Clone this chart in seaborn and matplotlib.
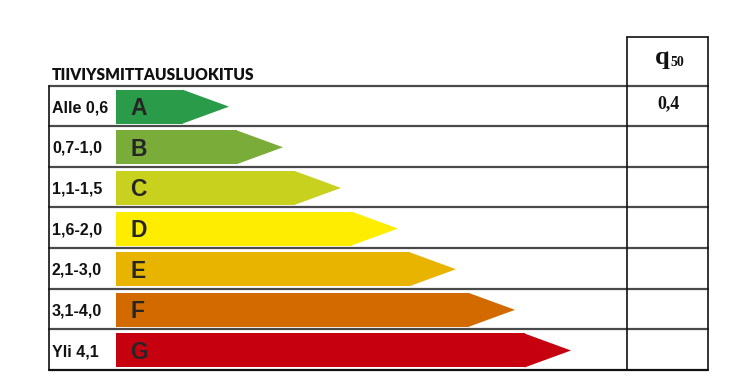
import matplotlib
matplotlib.use("Agg")
import matplotlib.pyplot as plt
import seaborn as sns
import pandas as pd
from matplotlib.patches import Polygon
from matplotlib.lines import Line2D

# ---- data ----
classes = ["A", "B", "C", "D", "E", "F", "G"]
ranges = ["Alle 0,6", "0,7-1,0", "1,1-1,5", "1,6-2,0", "2,1-3,0", "3,1-4,0", "Yli 4,1"]
body_lengths = [67, 121, 179, 236, 294, 353, 409]
colors = ["#2a9b48", "#7aac3a", "#c8d21e", "#ffed00", "#e8b400", "#d26a00", "#c6000e"]
title = "TIIVIYSMITTAUSLUOKITUS"
q_header = "q"
q_sub = "50"
q_values = ["0,4", "", "", "", "", "", ""]

W, H = 755, 387
sns.set_theme(style="white")
fig = plt.figure(figsize=(W / 100, H / 100), dpi=100)
fig.patch.set_facecolor("white")

def fx(x):
    return x / W

def fy(y):
    return 1 - y / H

table_left, table_top, table_bottom = 49, 85.5, 370
col_left, col_right, col_top = 627, 708, 37
row_h = (table_bottom - table_top) / len(classes)
bar_left = 116

# ---- arrows via seaborn barplot ----
ax = fig.add_axes([fx(bar_left), fy(table_bottom), fx(col_left - bar_left),
                   (table_bottom - table_top) / H])
df = pd.DataFrame({"cls": classes, "len": body_lengths})
bar_w = 34 / row_h
sns.barplot(data=df, x="len", y="cls", hue="cls", palette=colors, orient="h",
            width=bar_w, legend=False, ax=ax, linewidth=0, saturation=1)
ax.set_xlim(0, col_left - bar_left)
ax.set_ylim(len(classes) - 0.5, -0.5)
ax.axis("off")
tip = 46
for i, (L, c) in enumerate(zip(body_lengths, colors)):
    yc = i + 0.02
    ax.add_patch(Polygon([(L - 0.5, yc - bar_w / 2), (L + tip, yc), (L - 0.5, yc + bar_w / 2)],
                         closed=True, facecolor=c, edgecolor="none"))
    ax.text(14, yc + 0.05, classes[i], fontsize=16.5, fontweight="bold",
            color="#262626", ha="left", va="center", family="Liberation Sans")
for p in ax.patches[:len(classes)]:
    p.set_y(p.get_y() + 0.02)

# ---- table lines ----
def hline(y, x0, x1, color="#4a4a4a", lw=1.6):
    fig.add_artist(Line2D([fx(x0), fx(x1)], [fy(y), fy(y)], color=color, lw=lw))

def vline(x, y0, y1, color="#111111", lw=1.2):
    fig.add_artist(Line2D([fx(x), fx(x)], [fy(y0), fy(y1)], color=color, lw=lw))

for k in range(len(classes) + 1):
    y = table_top + k * row_h
    hline(y, table_left, col_right, color="#111111" if k == len(classes) else "#4a4a4a")
hline(col_top, col_left, col_right, color="#111111", lw=1.2)
vline(table_left, table_top, table_bottom)
vline(col_left, col_top, table_bottom)
vline(col_right, col_top, table_bottom)

# ---- texts ----
fig.text(fx(52), fy(75.5), title, fontsize=11.2, fontweight="heavy", family="Lato",
         color="#111111", ha="left", va="center")
for i, r in enumerate(ranges):
    yc = table_top + (i + 0.5) * row_h + 2
    fig.text(fx(52), fy(yc), r, fontsize=11.5, fontweight="bold", family="Liberation Sans",
             color="#111111", ha="left", va="center")
    if q_values[i]:
        fig.text(fx(668), fy(yc - 4), q_values[i], fontsize=13, fontweight="bold",
                 family="Liberation Serif", color="#111111", ha="center", va="center")
fig.text(fx(670), fy(64), q_header, fontsize=19, fontweight="bold",
         family="Liberation Serif", color="#111111", ha="right", va="baseline")
fig.text(fx(670), fy(66), q_sub, fontsize=10, fontweight="bold",
         family="Liberation Serif", color="#111111", ha="left", va="baseline")

fig.savefig("out.png", dpi=100, facecolor="white")
